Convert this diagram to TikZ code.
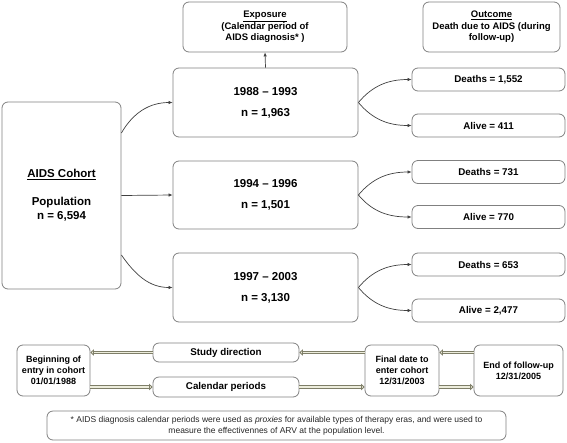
\documentclass[tikz,border=0pt]{standalone}
\usepackage{fontspec}
\setmainfont{Liberation Sans}
\usetikzlibrary{arrows.meta}
\definecolor{boxgray}{HTML}{808080}
\definecolor{connc}{HTML}{404040}
\definecolor{dblout}{HTML}{7E7E68}
\definecolor{dblin}{HTML}{EDEDDC}
\begin{document}
\begin{tikzpicture}[x=1pt,y=-1pt,
  box/.style={draw=boxgray, line width=0.8pt, rounded corners=6pt, inner sep=0pt, align=center, font=\bfseries},
  conn/.style={draw=connc, line width=0.7pt, -{Latex[length=4pt,width=3.5pt]}},
  dbl/.style={draw=dblout, double=dblin, double distance=1.8pt, line width=0.8pt,
    -{Triangle[open, length=3.5pt, width=6.5pt, fill=dblin]}}]
\useasboundingbox (0,0) rectangle (567,442);

% header boxes
\node[box, minimum width=164pt, minimum height=50pt, font=\bfseries\fontsize{9.5}{11.5}\selectfont] (expo) at (265,27)
  {\underline{Exposure}\\(Calendar period of\\AIDS diagnosis* )};
\node[box, minimum width=137pt, minimum height=50pt, font=\bfseries\fontsize{9.5}{11.5}\selectfont] (outc) at (491.5,27)
  {\underline{Outcome}\\Death due to AIDS (during\\follow-up)};

% cohort
\node[box, minimum width=119pt, minimum height=187pt, font=\bfseries\fontsize{11.5}{14}\selectfont] (cohort) at (61.5,195.5)
  {\underline{AIDS Cohort}\\[14pt]Population\\n = 6,594};

% periods
\node[box, minimum width=185pt, minimum height=69pt, font=\bfseries\fontsize{11.5}{21}\selectfont] (p1) at (265.5,102.5)
  {1988 -- 1993\\n = 1,963};
\node[box, minimum width=185pt, minimum height=68pt, font=\bfseries\fontsize{11.5}{21}\selectfont] (p2) at (265.5,195)
  {1994 -- 1996\\n = 1,501};
\node[box, minimum width=185pt, minimum height=69pt, font=\bfseries\fontsize{11.5}{21}\selectfont] (p3) at (265.5,287.5)
  {1997 -- 2003\\n = 3,130};

% outcomes
\tikzset{obox/.style={box, minimum width=153pt, minimum height=23pt, font=\bfseries\fontsize{9.8}{12}\selectfont}}
\node[obox] (d1) at (488.5,79.5) {Deaths = 1,552};
\node[obox] (a1) at (488.5,125.5) {Alive = 411};
\node[obox] (d2) at (488.5,172) {Deaths = 731};
\node[obox] (a2) at (488.5,217) {Alive = 770};
\node[obox] (d3) at (488.5,264.5) {Deaths = 653};
\node[obox] (a3) at (488.5,310.5) {Alive = 2,477};

% connectors
\draw[conn] (p1.north) -- (expo.south);
\draw[conn] ([yshift=62.5pt]cohort.east) to[out=60,in=180] (p1.west);
\draw[conn] (cohort.east) -- (p2.west);
\draw[conn] ([yshift=-59.5pt]cohort.east) to[out=-55,in=180] (p3.west);
\foreach \p/\d/\a in {p1/d1/a1, p2/d2/a2, p3/d3/a3}{
  \draw[conn] (\p.east) to[out=50,in=180] (\d.west);
  \draw[conn] (\p.east) to[out=-50,in=180] (\a.west);
}

% timeline
\tikzset{tbox/.style={box, minimum height=51pt, font=\bfseries\fontsize{9}{11}\selectfont}}
\node[tbox, minimum width=73pt] (begin) at (53.5,370.5) {Beginning of\\entry in cohort\\01/01/1988};
\node[tbox, minimum width=74pt] (final) at (402,370.5) {Final date to\\enter cohort\\12/31/2003};
\node[tbox, minimum width=89pt] (endf) at (518.5,370.5) {End of follow-up\\12/31/2005};
\node[box, minimum width=146pt, minimum height=19pt, font=\bfseries\fontsize{9.8}{12}\selectfont] (study) at (226,352.5) {Study direction};
\node[box, minimum width=146pt, minimum height=20pt, font=\bfseries\fontsize{9.8}{12}\selectfont] (cal) at (226,387) {Calendar periods};

\draw[dbl] (study.west) -- (study.west -| begin.east);
\draw[dbl] (study.east -| final.west) -- (study.east);
\draw[dbl] (study.east -| endf.west) -- (study.east -| final.east);
\draw[dbl] (cal.west -| begin.east) -- (cal.west);
\draw[dbl] (cal.east) -- (cal.east -| final.west);
\draw[dbl] (cal.east -| final.east) -- (cal.east -| endf.west);

% footnote
\node[box, minimum width=459pt, minimum height=29pt, font=\fontsize{8.5}{11}\selectfont, text=black!85] (foot) at (276.5,425.5)
  {* AIDS diagnosis calendar periods were used as \textit{proxies} for available types of therapy eras, and were used to\\measure the effectivennes of ARV at the population level.};
\end{tikzpicture}
\end{document}
